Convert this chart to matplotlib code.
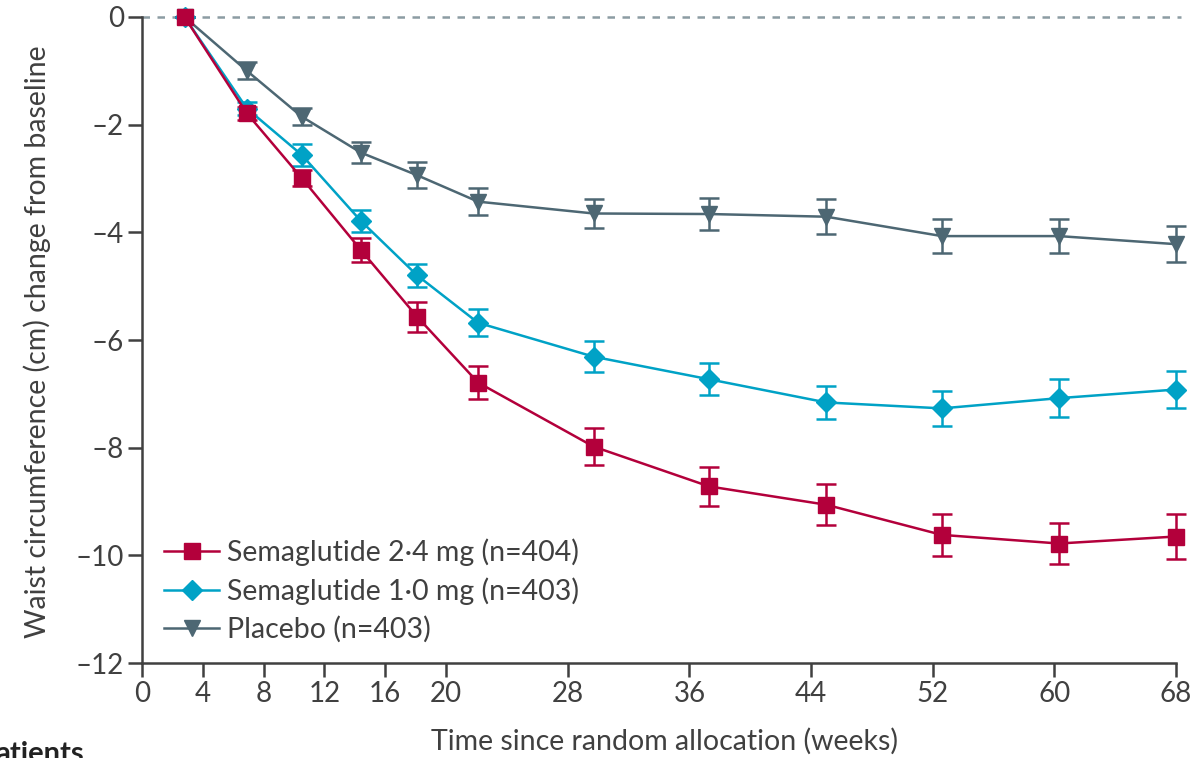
import matplotlib.pyplot as plt

plt.rcParams['font.family'] = ['Lato', 'DejaVu Sans']

# weeks at which the points sit
weeks = [2.8, 6.9, 10.5, 14.4, 18.1, 22.1, 29.7, 37.3, 45.0, 52.6, 60.3, 68.0]

sema24 = [0.0, -1.79, -2.99, -4.33, -5.57, -6.79, -7.98, -8.72, -9.06, -9.62, -9.78, -9.65]
sema24_err = [0.0, 0.12, 0.15, 0.23, 0.28, 0.31, 0.34, 0.37, 0.38, 0.39, 0.38, 0.42]

sema10 = [0.0, -1.70, -2.56, -3.79, -4.80, -5.68, -6.31, -6.73, -7.16, -7.27, -7.08, -6.92]
sema10_err = [0.0, 0.12, 0.2, 0.2, 0.21, 0.25, 0.29, 0.30, 0.31, 0.32, 0.35, 0.34]

placebo = [0.0, -1.0, -1.85, -2.52, -2.94, -3.43, -3.65, -3.66, -3.71, -4.07, -4.07, -4.22]
placebo_err = [0.0, 0.16, 0.155, 0.19, 0.24, 0.25, 0.27, 0.30, 0.32, 0.31, 0.32, 0.33]

xticks = [0, 4, 8, 12, 16, 20, 28, 36, 44, 52, 60, 68]
yticks = [0, -2, -4, -6, -8, -10, -12]
ytick_labels = ['0', '–2', '–4', '–6', '–8', '–10', '–12']

series = [
    ('Semaglutide 2·4 mg (n=404)', sema24, sema24_err, '#B3003B', 's', 12),
    ('Semaglutide 1·0 mg (n=403)', sema10, sema10_err, '#00A2C6', 'D', 10),
    ('Placebo (n=403)', placebo, placebo_err, '#4D6773', 'v', 12),
]

fig = plt.figure(figsize=(11.97, 7.58), dpi=100)
ax = fig.add_axes([0.1186, 0.1253, 0.8639, 0.8523])

# dashed reference line at zero
ax.plot([0, 68.3], [0, 0], linestyle=(0, (3, 3)), color='#8C9CA3', lw=1.8,
        zorder=1, clip_on=False)

handles = []
# draw placebo first so the active arms sit on top
for name, y, err, col, mk, ms in series[::-1]:
    eb = ax.errorbar(weeks, y, yerr=err, color=col, marker=mk, markersize=ms,
                     lw=1.8, elinewidth=1.8, capsize=7, capthick=1.8,
                     clip_on=False, zorder=3)
    for a in eb.lines[1] + eb.lines[2]:
        a.set_clip_on(False)
    handles.append((eb, name))

handles = handles[::-1]
leg = ax.legend([h[0].lines[0] for h in handles], [h[1] for h in handles],
                loc='lower left', bbox_to_anchor=(-0.003, -0.009), frameon=False,
                fontsize=20.5, handlelength=1.9, handletextpad=0.3,
                labelspacing=0.4, labelcolor='#404040')

ax.set_xlim(0, 68)
ax.set_ylim(-12, 0)
ax.set_xticks(xticks)
ax.set_yticks(yticks)
ax.set_yticklabels(ytick_labels)

for s in ['top', 'right']:
    ax.spines[s].set_visible(False)
for s in ['left', 'bottom']:
    ax.spines[s].set_linewidth(1.8)
    ax.spines[s].set_color('#404040')

ax.tick_params(axis='both', direction='out', length=10, width=1.8,
               color='#404040', labelsize=20, labelcolor='#404040', pad=3)

ax.set_xlabel('Time since random allocation (weeks)', fontsize=20.5,
              color='#404040')
ax.xaxis.set_label_coords(0.505, -0.1)
ax.set_ylabel('Waist circumference (cm) change from baseline', fontsize=20.5,
              color='#404040')
ax.yaxis.set_label_coords(-0.088, 0.497)

# cropped caption fragment at the bottom edge
fig.text(-0.004, 0.022, 'atients', fontsize=21, fontweight='bold',
         color='#222222', va='top', ha='left')

fig.savefig('out.png', dpi=100)
